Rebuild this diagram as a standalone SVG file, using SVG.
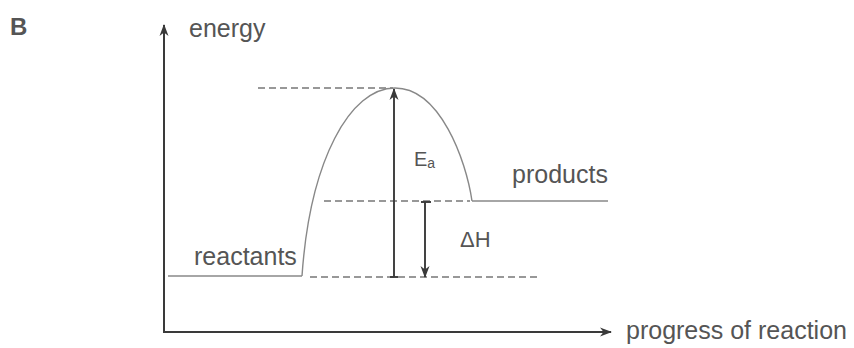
<svg xmlns="http://www.w3.org/2000/svg" width="854" height="348" viewBox="0 0 854 348">
<style>
  .lbl { font-family: "Liberation Sans", Arial, sans-serif; font-size: 25px; fill: #555; }
  .axis { stroke: #3a3a3a; stroke-width: 2; fill: none; }
  .line { stroke: #888; stroke-width: 1.4; fill: none; }
  .dash { stroke: #777; stroke-width: 1.7; fill: none; stroke-dasharray: 7 4; }
  .arr { stroke: #3a3a3a; stroke-width: 1.9; fill: none; }
</style>
<defs>
  <marker id="head" viewBox="0 0 12 10" refX="11" refY="5" markerWidth="12" markerHeight="10" markerUnits="userSpaceOnUse" orient="auto">
    <path d="M0,0.5 L12,5 L0,9.5 L3.5,5 Z" fill="#3a3a3a"/>
  </marker>
</defs>
<rect width="854" height="348" fill="#ffffff"/>
<text id="label-B" x="10" y="35" style="font-family:'Liberation Sans',Arial,sans-serif;font-size:24px;font-weight:bold;fill:#555">B</text>
<g id="connectors">
  <line class="axis" x1="164" y1="333" x2="164" y2="25" marker-end="url(#head)"/>
  <line class="axis" x1="164" y1="332" x2="611" y2="332" marker-end="url(#head)"/>
  <line class="dash" x1="258" y1="88" x2="393" y2="88"/>
  <line class="dash" x1="324" y1="201" x2="470" y2="201"/>
  <line class="dash" x1="310" y1="277" x2="540" y2="277"/>
  <line class="arr" x1="394" y1="277" x2="394" y2="89" marker-end="url(#head)"/>
  <line class="arr" x1="390" y1="277" x2="398" y2="277"/>
  <line class="arr" x1="425" y1="202" x2="425" y2="277" marker-end="url(#head)"/>
  <line class="arr" x1="421" y1="202" x2="431" y2="202"/>
</g>
<g id="reactants">
  <line class="line" x1="168" y1="276" x2="302" y2="276"/>
  <text class="lbl" x="194" y="265">reactants</text>
</g>
<g id="curve">
  <path class="line" d="M302,276 C310,160 350,88 395,88 C440,88 466,160 472,201"/>
</g>
<g id="products">
  <line class="line" x1="472" y1="201" x2="608" y2="201"/>
  <text class="lbl" x="512" y="183">products</text>
</g>
<g id="energy">
  <text class="lbl" x="189" y="37">energy</text>
</g>
<g id="progress">
  <text class="lbl" x="626" y="339">progress of reaction</text>
</g>
<g id="Ea">
  <text class="lbl" x="414" y="166" style="font-size:20px">E<tspan dy="2" style="font-size:14px">a</tspan></text>
</g>
<g id="dH">
  <text class="lbl" x="460" y="247" style="font-size:22px">ΔH</text>
</g>
</svg>
